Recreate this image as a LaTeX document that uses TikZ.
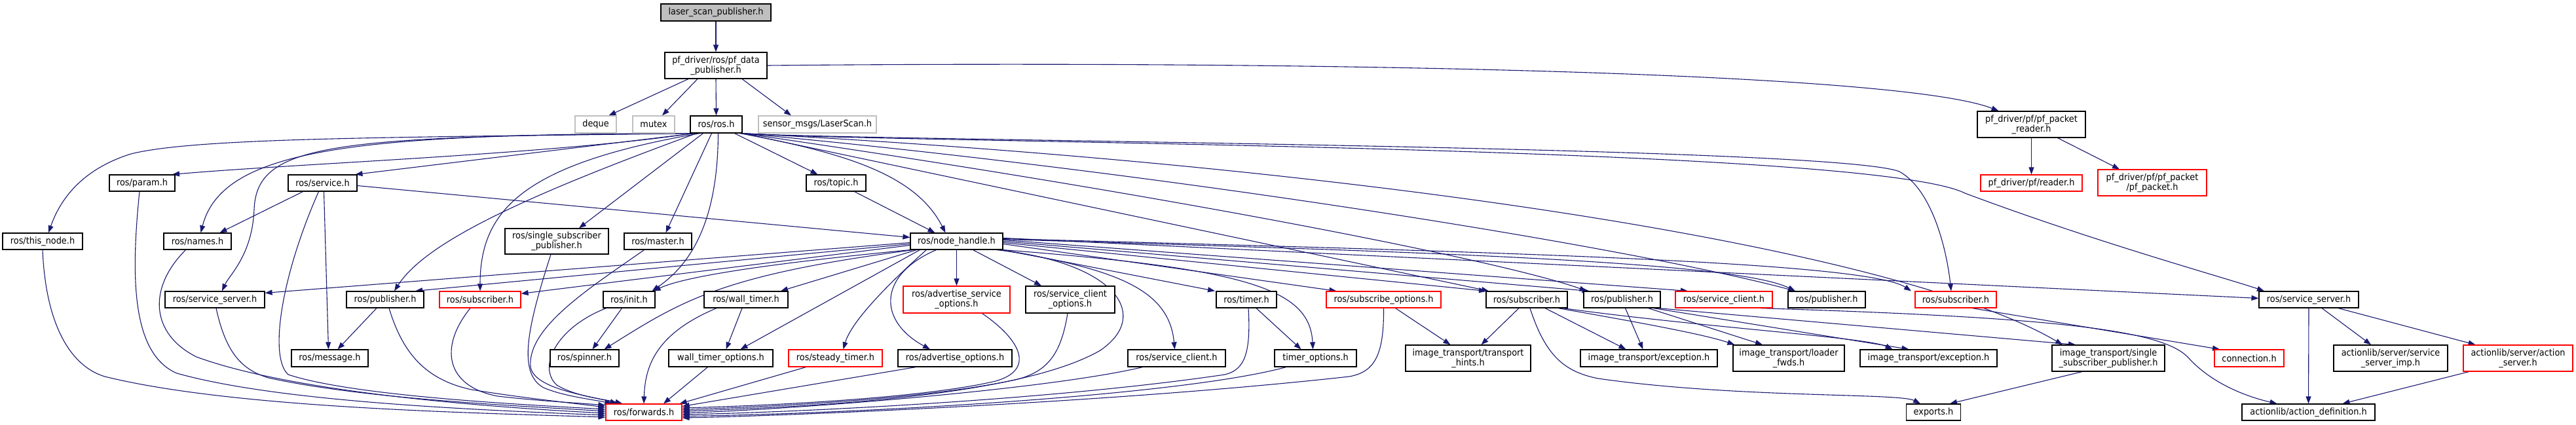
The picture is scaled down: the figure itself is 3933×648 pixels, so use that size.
\documentclass[tikz,border=0pt]{standalone}
\usepackage{fontspec}
\setmainfont[FakeStretch=0.92]{DejaVu Sans}
\usetikzlibrary{arrows.meta}
\definecolor{edgec}{RGB}{25,25,112}
\definecolor{grayb}{RGB}{191,191,191}
\definecolor{redb}{RGB}{255,0,0}
\pgfdeclarelayer{bg}
\pgfsetlayers{bg,main}
\begin{document}
\begin{tikzpicture}[x=1pt,y=-1pt,
 box/.style={draw=black, fill=white, line width=1.2pt, inner sep=0pt, align=center, font=\fontsize{14pt}{15pt}\selectfont},
 rbox/.style={box, draw=redb},
 gbox/.style={box, draw=grayb},
 e/.style={draw=edgec, line width=1.1pt, -{Triangle[length=11pt,width=8pt]}},
 sz/.style 2 args={minimum width=#1pt, minimum height=#2pt}]
\useasboundingbox (0,0) rectangle (3933,648);
% row 0-2
\node[box,fill=grayb,sz={168}{26}] (laser) at (1093,19) {laser\_scan\_publisher.h};
\node[box,sz={156}{40}] (pfdata) at (1093,100) {pf\_driver/ros/pf\_data\\\_publisher.h};
\node[gbox,sz={63}{26}] (deque) at (909.5,190) {deque};
\node[gbox,sz={64}{26}] (mutex) at (998,190) {mutex};
\node[box,sz={79}{26}] (rosh) at (1093.5,190) {ros/ros.h};
\node[gbox,sz={180}{26}] (sensor) at (1248,190) {sensor\_msgs/LaserScan.h};
\node[box,sz={165}{40}] (pkreader) at (3101.5,190) {pf\_driver/pf/pf\_packet\\\_reader.h};
% row 3
\node[rbox,sz={155}{25}] (pfrd) at (3101.5,279.5) {pf\_driver/pf/reader.h};
\node[rbox,sz={166}{40}] (pfpkt) at (3286,279) {pf\_driver/pf/pf\_packet\\/pf\_packet.h};
\node[box,sz={100}{25}] (param) at (217,279.5) {ros/param.h};
\node[box,sz={105}{25}] (service) at (492.5,279.5) {ros/service.h};
\node[box,sz={91}{25}] (topic) at (1276.5,279.5) {ros/topic.h};
% row 4
\node[box,sz={122}{25}] (thisnode) at (65,368.5) {ros/this\_node.h};
\node[box,sz={103}{25}] (names) at (301.5,368.5) {ros/names.h};
\node[box,sz={158}{39}] (singlesub) at (850,368.5) {ros/single\_subscriber\\\_publisher.h};
\node[box,sz={103}{25}] (master) at (1004.5,368.5) {ros/master.h};
\node[box,sz={141}{25}] (nh) at (1460.5,368.5) {ros/node\_handle.h};
% row 5
\node[box,sz={152}{25}] (ssL) at (328,457.5) {ros/service\_server.h};
\node[box,sz={118}{25}] (pubL) at (588,457.5) {ros/publisher.h};
\node[rbox,sz={124}{25}] (subL) at (733,457.5) {ros/subscriber.h};
\node[box,sz={79}{25}] (init) at (960.5,457.5) {ros/init.h};
\node[box,sz={128}{25}] (wt) at (1139,457.5) {ros/wall\_timer.h};
\node[rbox,sz={163}{41}] (aso) at (1460.5,457.5) {ros/advertise\_service\\\_options.h};
\node[box,sz={136}{41}] (sco) at (1634,457.5) {ros/service\_client\\\_options.h};
\node[box,sz={92}{25}] (timer) at (1903,457.5) {ros/timer.h};
\node[rbox,sz={175}{25}] (subopts) at (2112.5,457.5) {ros/subscribe\_options.h};
\node[box,sz={124}{25}] (subB) at (2331,457.5) {ros/subscriber.h};
\node[box,sz={117}{25}] (pubB) at (2476.5,457.5) {ros/publisher.h};
\node[rbox,sz={148}{25}] (scR) at (2632,457.5) {ros/service\_client.h};
\node[box,sz={118}{25}] (pub3) at (2789,457.5) {ros/publisher.h};
\node[rbox,sz={124}{25}] (subR) at (2986,457.5) {ros/subscriber.h};
\node[box,sz={152}{25}] (ssR) at (3525,457.5) {ros/service\_server.h};
% row 6
\node[box,sz={117}{26}] (message) at (503.5,547) {ros/message.h};
\node[box,sz={105}{26}] (spinner) at (892.5,547) {ros/spinner.h};
\node[box,sz={159}{26}] (wto) at (1100.5,547) {wall\_timer\_options.h};
\node[rbox,sz={143}{26}] (steady) at (1275.5,547) {ros/steady\_timer.h};
\node[box,sz={174}{26}] (advopts) at (1458,547) {ros/advertise\_options.h};
\node[box,sz={149}{26}] (sc6) at (1796.5,547) {ros/service\_client.h};
\node[box,sz={125}{26}] (timeropts) at (2008.5,547) {timer\_options.h};
\node[box,sz={191}{40}] (hints) at (2241.5,547) {image\_transport/transport\\\_hints.h};
\node[box,sz={209}{26}] (exc1) at (2517.5,547) {image\_transport/exception.h};
\node[box,sz={170}{40}] (loader) at (2731,547) {image\_transport/loader\\\_fwds.h};
\node[box,sz={209}{26}] (exc2) at (2944.5,547) {image\_transport/exception.h};
\node[box,sz={172}{40}] (itss) at (3219,547) {image\_transport/single\\\_subscriber\_publisher.h};
\node[rbox,sz={106}{26}] (conn) at (3434,547) {connection.h};
\node[box,sz={174}{40}] (ssimp) at (3650,547) {actionlib/server/service\\\_server\_imp.h};
\node[rbox,sz={167}{40}] (actsrv) at (3844.5,547) {actionlib/server/action\\\_server.h};
% row 7
\node[rbox,sz={116}{25}] (fwd) at (983,629.5) {ros/forwards.h};
\node[box,sz={83}{25}] (exports) at (2952,629.5) {exports.h};
\node[box,sz={203}{25}] (actdef) at (3524.5,629.5) {actionlib/action\_definition.h};

\begin{pgfonlayer}{bg}
% top
\draw[e] (laser.south) -- (pfdata.north);
\draw[e] ([xshift=-42pt]pfdata.south) -- ([xshift=20pt]deque.north);
\draw[e] ([xshift=-28pt]pfdata.south) -- ([xshift=13pt]mutex.north);
\draw[e] (pfdata.south) -- (rosh.north);
\draw[e] ([xshift=40pt]pfdata.south) -- ([xshift=-40pt]sensor.north);
\draw[e] (pfdata.east) .. controls (2000,92) and (2900,110) .. ([xshift=-50pt]pkreader.north);
\draw[e] (pkreader.south) -- (pfrd.north);
\draw[e] ([xshift=40pt]pkreader.south) -- ([xshift=-50pt]pfpkt.north);
% ros.h
\draw[e] ([xshift=-35pt]rosh.south) .. controls (600,210) and (300,210) .. (200,235) .. controls (120,260) and (90,310) .. ([xshift=9pt]thisnode.north);
\draw[e] ([xshift=-35pt]rosh.south) .. controls (850,235) and (450,250) .. ([xshift=46pt]param.north);
\draw[e] ([xshift=-33pt]rosh.south) -- ([xshift=50pt]service.north);
\draw[e] ([xshift=-38pt]rosh.south) .. controls (550,205) and (340,225) .. ([xshift=5pt]names.north);
\draw[e] ([xshift=-38pt]rosh.south) .. controls (500,208) and (392,220) .. (388,320) .. controls (385,390) and (350,420) .. ([xshift=11pt]ssL.north);
\draw[e] ([xshift=-30pt]rosh.south) .. controls (800,300) and (650,370) .. ([xshift=14pt]pubL.north);
\draw[e] ([xshift=-25pt]rosh.south) .. controls (800,250) and (733,320) .. (subL.north);
\draw[e] ([xshift=-20pt]rosh.south) -- ([xshift=34pt]singlesub.north);
\draw[e] ([xshift=-7pt]rosh.south) -- ([xshift=12pt]master.north);
\draw[e] ([xshift=3pt]rosh.south) .. controls (1096,330) and (1060,400) .. ([xshift=35pt]init.north);
\draw[e] ([xshift=28pt]rosh.south) -- ([xshift=-28pt]topic.north);
\draw[e] ([xshift=36pt]rosh.south) .. controls (1300,235) and (1400,270) .. ([xshift=-17pt]nh.north);
\draw[e] (rosh.south east) .. controls (1300,215) and (2800,222) .. (2900,262) .. controls (2950,290) and (2972,380) .. ([xshift=-7pt]subR.north);
\draw[e] (rosh.south east) .. controls (1300,218) and (2850,220) .. (3000,295) .. controls (3200,370) and (3400,425) .. ([xshift=-68pt]ssR.north);
\draw[e] (rosh.south east) .. controls (2100,255) and (2900,380) .. ([xshift=-70pt]itss.north);
\draw[e] (rosh.south east) .. controls (1800,265) and (2500,380) .. ([xshift=-48pt]pub3.north);
\draw[e] (rosh.south east) .. controls (1800,300) and (2300,400) .. ([xshift=-54pt]pubB.north);
\draw[e] (rosh.south east) -- ([xshift=-58pt]subB.north);
% service, topic
\draw[e] ([xshift=-30pt]service.south) -- ([xshift=34pt]names.north);
\draw[e] ([xshift=2pt]service.south) -- ([xshift=-2pt]message.north);
\draw[e] ([yshift=-4pt]service.east) -- ([yshift=6pt]nh.west);
\draw[e] ([xshift=28pt]topic.south) -- ([xshift=-33pt]nh.north);
% node_handle
\draw[e] ([yshift=-2pt]nh.west) -- ([yshift=-3pt]ssL.north east);
\draw[e] ([yshift=-4pt]nh.west) -- ([xshift=46pt]pubL.north);
\draw[e] ([yshift=-6pt]nh.west) -- ([yshift=-4pt]subL.north east);
\draw[e] (nh.south west) .. controls (1200,400) and (1050,420) .. ([xshift=-3pt]init.north east);
\draw[e] ([xshift=5pt]nh.south west) .. controls (1100,420) and (1040,460) .. ([xshift=30pt]spinner.north);
\draw[e] ([xshift=10pt]nh.south west) -- ([xshift=53pt]wt.north);
\draw[e] ([xshift=15pt]nh.south west) -- ([xshift=30pt]wto.north);
\draw[e] ([xshift=25pt]nh.south west) .. controls (1360,430) and (1300,490) .. ([xshift=12pt]steady.north);
\draw[e] ([xshift=40pt]nh.south west) .. controls (1340,420) and (1340,490) .. ([xshift=-38pt]advopts.north);
\draw[e] (nh.south) -- (aso.north);
\draw[e] ([xshift=25pt]nh.south) -- ([xshift=-44pt]sco.north);
\draw[e] ([xshift=-10pt]nh.south east) .. controls (1700,400) and (1760,480) .. (1680,535) .. controls (1550,610) and (1200,622) .. ([yshift=1.5pt]fwd.east);
\draw[e] ([xshift=-5pt]nh.south east) .. controls (1700,410) and (1785,440) .. ([xshift=-3pt]sc6.north);
\draw[e] (nh.south east) -- ([xshift=-48pt]timer.north);
\draw[e] (nh.south east) .. controls (1900,410) and (2000,440) .. ([xshift=-4pt]timeropts.north);
\draw[e] ([yshift=-4pt]nh.east) -- ([xshift=-72pt]subopts.north);
\draw[e] ([yshift=-2pt]nh.east) -- ([xshift=-62pt]subB.north);
\draw[e] (nh.east) -- ([xshift=-50pt]pubB.north);
\draw[e] ([yshift=2pt]nh.east) -- ([xshift=-55pt]scR.north);
\draw[e] ([yshift=3pt]nh.east) .. controls (2200,385) and (2650,400) .. ([xshift=-48pt]pub3.north);
\draw[e] ([yshift=4pt]nh.east) .. controls (2300,385) and (2850,400) .. ([xshift=-68pt]subR.north);
\draw[e] ([yshift=5pt]nh.east) -- ([yshift=2pt]ssR.west);
% image_transport etc.
\draw[e] ([xshift=-12pt]subB.south) -- ([xshift=20pt]hints.north);
\draw[e] ([xshift=28pt]subB.south) -- ([xshift=-35pt]exc1.north);
\draw[e] ([xshift=48pt]subB.south) .. controls (2500,492) and (2600,510) .. ([xshift=3pt]loader.north west);
\draw[e] ([xshift=55pt]subB.south) .. controls (2600,500) and (2850,515) .. ([xshift=-55pt]exc2.north);
\draw[e] ([xshift=5pt]subB.south) .. controls (2360,545) and (2390,568) .. (2440,578) .. controls (2650,608) and (2900,600) .. ([xshift=-20pt]exports.north);
\draw[e] ([xshift=5pt]pubB.south) -- ([xshift=-9pt]exc1.north);
\draw[e] ([xshift=40pt]pubB.south) -- ([xshift=-40pt]loader.north);
\draw[e] ([xshift=48pt]pubB.south) -- ([xshift=-30pt]exc2.north);
\draw[e] ([xshift=55pt]pubB.south) -- ([xshift=-50pt]itss.north);
\draw[e] ([xshift=-40pt]itss.south) -- ([xshift=25pt]exports.north);
\draw[e] ([xshift=25pt]subR.south) -- ([xshift=-45pt]conn.north);
\draw[e] ([xshift=55pt]scR.south) .. controls (3150,485) and (3300,505) .. (3340,545) .. controls (3380,590) and (3440,608) .. ([xshift=-48pt]actdef.north);
\draw[e] (ssR.south) -- (actdef.north);
\draw[e] ([xshift=20pt]ssR.south) -- ([xshift=-30pt]ssimp.north);
\draw[e] ([xshift=45pt]ssR.south) -- ([xshift=-65pt]actsrv.north);
\draw[e] ([xshift=-75pt]actsrv.south) -- ([xshift=52pt]actdef.north);
% into forwards
\draw[e] (thisnode.south) .. controls (70,500) and (110,560) .. (160,575) .. controls (350,622) and (700,630) .. ([yshift=-7.5pt]fwd.west);
\draw[e] ([xshift=-4pt]param.south) .. controls (200,420) and (200,540) .. (270,570) .. controls (420,612) and (700,625) .. ([yshift=-4.5pt]fwd.west);
\draw[e] ([xshift=-18pt]names.south) .. controls (225,440) and (230,510) .. (300,545) .. controls (450,600) and (750,622) .. ([yshift=-1.5pt]fwd.west);
\draw[e] ([xshift=2pt]ssL.south) .. controls (345,540) and (370,565) .. (410,577) .. controls (560,610) and (800,620) .. ([yshift=1.5pt]fwd.west);
\draw[e] ([xshift=-6pt]service.south) .. controls (430,420) and (410,545) .. (440,572) .. controls (540,605) and (800,618) .. ([yshift=4.5pt]fwd.west);
\draw[e] ([xshift=-13pt]pubL.south) -- ([xshift=12pt]message.north);
\draw[e] ([xshift=6pt]pubL.south) .. controls (615,540) and (650,580) .. (720,595) .. controls (800,608) and (870,615) .. ([yshift=7.5pt]fwd.west);
\draw[e] ([xshift=-15pt]subL.south) .. controls (670,530) and (680,590) .. (760,605) .. controls (830,613) and (880,615) .. ([yshift=10.5pt]fwd.west);
\draw[e] ([xshift=-9pt]singlesub.south) .. controls (805,500) and (790,570) .. (830,592) .. controls (860,605) and (905,610) .. ([xshift=10pt]fwd.north west);
\draw[e] ([xshift=-21pt]master.south) .. controls (900,440) and (805,500) .. (810,560) .. controls (815,595) and (905,605) .. ([xshift=18pt]fwd.north west);
\draw[e] ([xshift=-35pt]init.south) .. controls (850,500) and (820,560) .. (850,588) .. controls (880,606) and (925,610) .. ([xshift=26pt]fwd.north west);
\draw[e] ([xshift=-11pt]init.south) -- ([xshift=12pt]spinner.north);
\draw[e] ([xshift=-6pt]wt.south) -- ([xshift=8pt]wto.north);
\draw[e] ([xshift=-45pt]wt.south) .. controls (1000,510) and (985,560) .. (fwd.north);
\draw[e] ([xshift=-20pt]wto.south) -- ([xshift=30pt]fwd.north);
\draw[e] ([xshift=-45pt]steady.south) -- ([xshift=-4pt]fwd.north east);
\draw[e] ([xshift=-60pt]advopts.south) -- ([yshift=9pt]fwd.east);
\draw[e] ([xshift=39pt]aso.south) .. controls (1560,520) and (1580,565) .. (1520,582) .. controls (1400,610) and (1150,620) .. ([yshift=6.5pt]fwd.east);
\draw[e] ([xshift=-4pt]sco.south) .. controls (1620,540) and (1600,568) .. (1550,580) .. controls (1400,612) and (1150,622) .. ([yshift=4pt]fwd.east);
\draw[e] ([xshift=-52pt]sc6.south) .. controls (1600,595) and (1200,626) .. ([yshift=-1pt]fwd.east);
\draw[e] ([xshift=3pt]timer.south) .. controls (1910,540) and (1900,565) .. (1870,572) .. controls (1600,612) and (1200,630) .. ([yshift=-3.5pt]fwd.east);
\draw[e] ([xshift=15pt]timer.south) -- ([xshift=-22pt]timeropts.north);
\draw[e] ([xshift=-45pt]timeropts.south) .. controls (1800,605) and (1300,632) .. ([yshift=-6pt]fwd.east);
\draw[e] ([xshift=18pt]subopts.south) -- ([xshift=-27pt]hints.north);
\draw[e] (subopts.south) .. controls (2113,540) and (2100,568) .. (2060,575) .. controls (1700,615) and (1200,635) .. ([yshift=-8.5pt]fwd.east);
\end{pgfonlayer}
\end{tikzpicture}
\end{document}
